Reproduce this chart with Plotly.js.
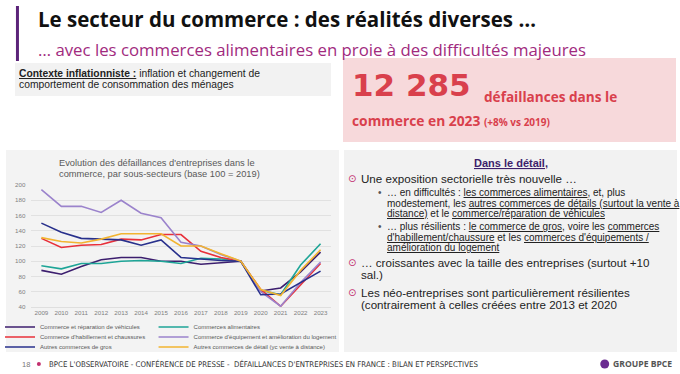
<!DOCTYPE html>
<html><head><meta charset="utf-8">
<script src="https://cdn.plot.ly/plotly-3.0.1.min.js"></script>
<style>html,body{margin:0;padding:0;background:#fff;}#chart{width:680px;height:374px;}</style>
</head><body><div id="chart"></div>
<script>
// ---- data ----
const years = [2009, 2010, 2011, 2012, 2013, 2014, 2015, 2016, 2017, 2018, 2019, 2020, 2021, 2022, 2023];
const tickLabels = ["2009","2010","2011","2012","2013","2014","2015","2016","2017","2018","2019","2020","2021","2022","2023"];
const seriesNames = [
  "Commerce et réparation de véhicules",
  "Commerces alimentaires",
  "Commerce d'habillement et chaussures",
  "Commerce d'équipement et amélioration du logement",
  "Autres commerces de gros",
  "Autres commerces de détail (yc vente à distance)"
];
const vehicules    = [88, 83, 93, 102, 105, 105, 100, 100, 96, 98, 100, 61, 65, 86, 112];
const alimentaires = [94, 90, 97, 97, 100, 101, 100, 97, 104, 103, 100, 62, 56, 95, 123];
const habillement  = [130, 118, 121, 122, 129, 128, 135, 135, 113, 105, 100, 63, 41, 69, 97];
const equipement   = [194, 172, 172, 164, 180, 163, 157, 125, 120, 109, 100, 60, 41, 72, 99];
const gros         = [150, 138, 130, 129, 128, 121, 128, 105, 103, 101, 100, 56, 57, 72, 87];
const detail       = [131, 126, 124, 129, 136, 136, 136, 120, 120, 110, 100, 63, 55, 88, 115];
const seriesValues = [vehicules, alimentaires, habillement, equipement, gros, detail];
const seriesColors = ["#3c1e6e", "#1ea597", "#e8303a", "#9b83cc", "#28308c", "#f2b431"];

// ---- helpers ----
const W = 680, H = 374;
const px = x => x / W, py = y => 1 - y / H;
const ARIAL = "Liberation Sans, Arial, sans-serif";
const OPEN = "Open Sans, sans-serif";

const legendIds = ["legend", "legend2", "legend3", "legend4", "legend5", "legend6"];
const traces = seriesValues.map((vals, i) => ({
  type: "scatter", mode: "lines", x: years, y: vals, name: seriesNames[i],
  line: {color: seriesColors[i], width: 1.6}, legend: legendIds[i], showlegend: true,
  hoverinfo: "skip"
}));

const legendRowY = [327, 327, 337, 337, 347, 347];
const legendColX = [-2, 152, -2, 152, -2, 152];
const legendFont = {family: ARIAL, size: 6, color: "#595959"};

function ann(text, x, y, size, o) {
  o = o || {};
  return {
    text: text, x: px(x), y: py(y), xref: "paper", yref: "paper",
    xanchor: o.xanchor || "left", yanchor: "middle", showarrow: false,
    align: o.align || "left", borderpad: 0,
    font: {family: o.family || ARIAL, size: size, color: o.color || "#222", weight: o.weight || "normal"}
  };
}
function rect(x0, y0, x1, y1, fill) {
  return {type: "rect", xref: "paper", yref: "paper", x0: px(x0), x1: px(x1), y0: py(y1), y1: py(y0),
    fillcolor: fill, line: {width: 0}, layer: "below"};
}
function circ(x0, y0, x1, y1, fill) {
  return {type: "circle", xref: "paper", yref: "paper", x0: px(x0), x1: px(x1), y0: py(y1), y1: py(y0),
    fillcolor: fill, line: {width: 0}, layer: "below"};
}

const RED = "#d9404c";
const BUL = "#c2306f";
const subSize = 10, mainSize = 11.6;

const annotations = [
  ann("<b>Le secteur du commerce : des réalités diverses …</b>", 35, 19, 20.5, {family: OPEN, color: "#111"}),
  ann("… avec les commerces alimentaires en proie à des difficultés majeures", 35, 50, 16.8, {family: OPEN, color: "#a12a7e"}),
  ann("<b><u>Contexte inflationniste :</u></b> inflation et changement de", 16, 73, 10.3),
  ann("comportement de consommation des ménages", 16, 84, 10.3),
  ann("<b>12 285</b>", 350, 85, 31, {family: "DejaVu Sans, sans-serif", color: RED}),
  ann("<b>défaillances dans le</b>", 482, 96, 13.6, {family: OPEN, color: RED}),
  ann("<b>commerce en 2023</b> <b><span style='font-size:10px'>(+8% vs 2019)</span></b>", 350, 121, 13.8, {family: OPEN, color: RED}),
  // chart title
  ann("Evolution des défaillances d'entreprises dans le", 155, 163, 9.3, {xanchor: "center", color: "#595959"}),
  ann("commerce, par sous-secteurs (base 100 = 2019)", 158, 174, 9.3, {xanchor: "center", color: "#595959"}),
  // right panel
  ann("<b><u>Dans le détail,</u></b>", 510, 163, 11, {xanchor: "center", color: "#3d1f6b"}),
  ann("⊙", 346, 178, 10, {family: "DejaVu Sans, sans-serif", color: BUL}),
  ann("Une exposition sectorielle très nouvelle …", 359, 178, mainSize),
  ann("•", 376, 193, subSize, {color: "#555"}),
  ann("… en difficultés : <u>les commerces alimentaires</u>, et, plus", 385, 193, subSize),
  ann("modestement, les <u>autres commerces de détails (surtout la vente à</u>", 385, 203.5, subSize),
  ann("<u>distance)</u> et le <u>commerce/réparation de véhicules</u>", 385, 214, subSize),
  ann("•", 376, 226.5, subSize, {color: "#555"}),
  ann("… plus résilients : <u>le commerce de gros</u>, voire les <u>commerces</u>", 385, 226.5, subSize),
  ann("<u>d'habillement/chaussure</u> et les <u>commerces d'équipements /</u>", 385, 237, subSize),
  ann("<u>amélioration du logement</u>", 385, 247.5, subSize),
  ann("⊙", 346, 262, 10, {family: "DejaVu Sans, sans-serif", color: BUL}),
  ann("… croissantes avec la taille des entreprises (surtout +10", 359, 262, mainSize),
  ann("sal.)", 359, 274, mainSize),
  ann("⊙", 346, 292, 10, {family: "DejaVu Sans, sans-serif", color: BUL}),
  ann("Les néo-entreprises sont particulièrement résilientes", 359, 292, mainSize),
  ann("(contrairement à celles créées entre 2013 et 2020", 359, 304, mainSize),
  // footer
  ann("18", 19, 364, 7.5, {color: "#777"}),
  ann("BPCE L'OBSERVATOIRE - CONFÉRENCE DE PRESSE -  DÉFAILLANCES D'ENTREPRISES EN FRANCE : BILAN ET PERSPECTIVES", 46, 364, 7.8,
      {family: "Liberation Sans Narrow, DejaVu Sans Condensed, Arial Narrow, sans-serif", color: "#333"}),
  ann("<b>GROUPE BPCE</b>", 612, 364, 8.6, {family: OPEN, color: "#555"})
];

const shapes = [
  rect(4, 150, 338, 352, "#f3f3f3"),
  rect(343, 150, 677, 352, "#f2f2f2"),
  rect(13, 63, 330, 96, "#f2f2f2"),
  rect(342, 58, 676, 142, "#f7d9db"),
  rect(14, 6, 17, 61, "#5b2379"),
  circ(35, 362, 39, 366, BUL),
  circ(600, 359.5, 609, 368.5, "#6b2c91")
];

const tickFont = {family: ARIAL, size: 6.2, color: "#7f7f7f"};
const layout = {
  width: W, height: H, margin: {l: 0, r: 0, t: 0, b: 0},
  paper_bgcolor: "#ffffff", plot_bgcolor: "rgba(0,0,0,0)",
  xaxis: {domain: [px(29.5), px(329.5)], range: [2008.5, 2023.5], tickmode: "array", tickvals: years, ticktext: tickLabels,
    showgrid: false, zeroline: false, showline: true, linecolor: "#d9d9d9", linewidth: 0.8, ticks: "",
    tickfont: tickFont, fixedrange: true},
  yaxis: {domain: [py(307), py(185)], range: [40, 200], tick0: 40, dtick: 20, showgrid: true, gridcolor: "#dcdcdc", gridwidth: 0.8,
    zeroline: false, showline: false, ticks: "", tickfont: tickFont, ticklabelstandoff: 5, fixedrange: true},
  shapes: shapes,
  annotations: annotations,
  font: {family: ARIAL}
};
legendIds.forEach((id, i) => {
  layout[id] = {x: px(legendColX[i]), y: py(legendRowY[i]), xanchor: "left", yanchor: "middle",
    orientation: "h", bgcolor: "rgba(0,0,0,0)", borderwidth: 0, font: legendFont, itemclick: false, itemdoubleclick: false};
});

Plotly.newPlot("chart", traces, layout, {displayModeBar: false, staticPlot: true});
</script>
</body></html>
